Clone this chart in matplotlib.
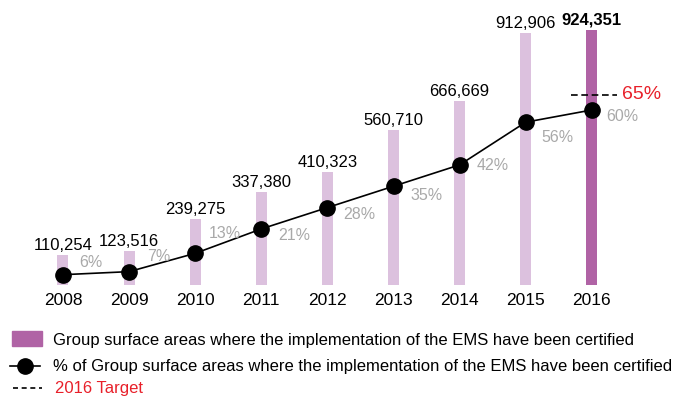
"""
EMS certification chart: certified surface areas (bars) and share of
group surface area (line), 2008-2016, with the 2016 target.
"""
import matplotlib
matplotlib.use("Agg")
import matplotlib.pyplot as plt
from matplotlib.lines import Line2D
from matplotlib.patches import Rectangle

plt.rcParams["font.family"] = ["Liberation Sans", "DejaVu Sans"]

years = ["2008", "2009", "2010", "2011", "2012", "2013", "2014", "2015", "2016"]
surface_m2 = [110254, 123516, 239275, 337380, 410323, 560710, 666669, 912906, 924351]
pct_certified = [6, 7, 13, 21, 28, 35, 42, 56, 60]
target_2016 = 65

# nudges (pixels) of the % labels relative to their marker
pct_offsets = [(16, 12), (18, 15), (14, 20), (17, -7), (16, -7),
               (17, -9), (17, -1), (16, -15), (14, -7)]

LIGHT = "#dcc1de"
DARK = "#b063a5"
GREY = "#a9a9a9"
RED = "#e8202a"

W, H = 675, 396
fig = plt.figure(figsize=(W / 100, H / 100), dpi=100)
ax = fig.add_axes([29.9 / W, 111 / H, 595 / W, 276 / H])
ax.set_xlim(-0.5, 8.5)
ax.set_ylim(0, 1_000_000)

x = list(range(len(years)))
colors = [LIGHT] * (len(years) - 1) + [DARK]
ax.bar(x, surface_m2, width=0.166, color=colors, zorder=1)

for i, v in enumerate(surface_m2):
    last = i == len(surface_m2) - 1
    ax.annotate(f"{v:,}", xy=(i, v), xytext=(0, 5), textcoords="offset pixels",
                ha="center", va="baseline", fontsize=12, color="black",
                fontweight="bold" if last else "normal")

ax.set_xticks(x, years)
ax.tick_params(axis="x", length=0, pad=6, labelsize=12.5)
ax.set_yticks([])
for s in ax.spines.values():
    s.set_visible(False)

ax2 = ax.twinx()
ax2.set_ylim(2.62, 93.1)
ax2.set_yticks([])
for s in ax2.spines.values():
    s.set_visible(False)

ax2.plot(x, pct_certified, color="black", lw=1.2, marker="o", ms=11,
         zorder=3)
for i, (p, (dx, dy)) in enumerate(zip(pct_certified, pct_offsets)):
    ax2.annotate(f"{p}%", xy=(i, p), xytext=(dx, dy), textcoords="offset pixels",
                 ha="left", va="center", fontsize=11.5, color=GREY)

# 2016 target marker
ax2.hlines(target_2016, x[-1] - 0.32, x[-1] + 0.38, colors="black",
           linestyles=(0, (4, 2.2)), lw=1.2, zorder=4)
ax2.annotate(f"{target_2016}%", xy=(x[-1] + 0.38, target_2016), xytext=(5, 0),
             textcoords="offset pixels", ha="left", va="center",
             fontsize=14, color=RED)

# legend, drawn by hand in figure pixels
tf = fig.transFigure
fig.patches.append(Rectangle((12 / W, 50 / H), 30 / W, 15 / H, transform=tf,
                             color=DARK))
fig.text(53 / W, 51 / H,
         "Group surface areas where the implementation of the EMS have been certified",
         va="baseline", fontsize=12)

fig.lines.append(Line2D([10 / W, 25 / W, 40 / W], [30 / H] * 3, transform=tf,
                        color="black", lw=1.2, marker="o", ms=11, markevery=[1]))
fig.text(53 / W, 25 / H,
         "% of Group surface areas where the implementation of the EMS have been certified",
         va="baseline", fontsize=12)

fig.lines.append(Line2D([13 / W, 42 / W], [8 / H] * 2, transform=tf,
                        color="black", lw=1.2, linestyle=(0, (3, 2.2))))
fig.text(55 / W, 3.5 / H, "2016 Target", va="baseline", fontsize=12, color=RED)

fig.savefig("out.png", dpi=100)
